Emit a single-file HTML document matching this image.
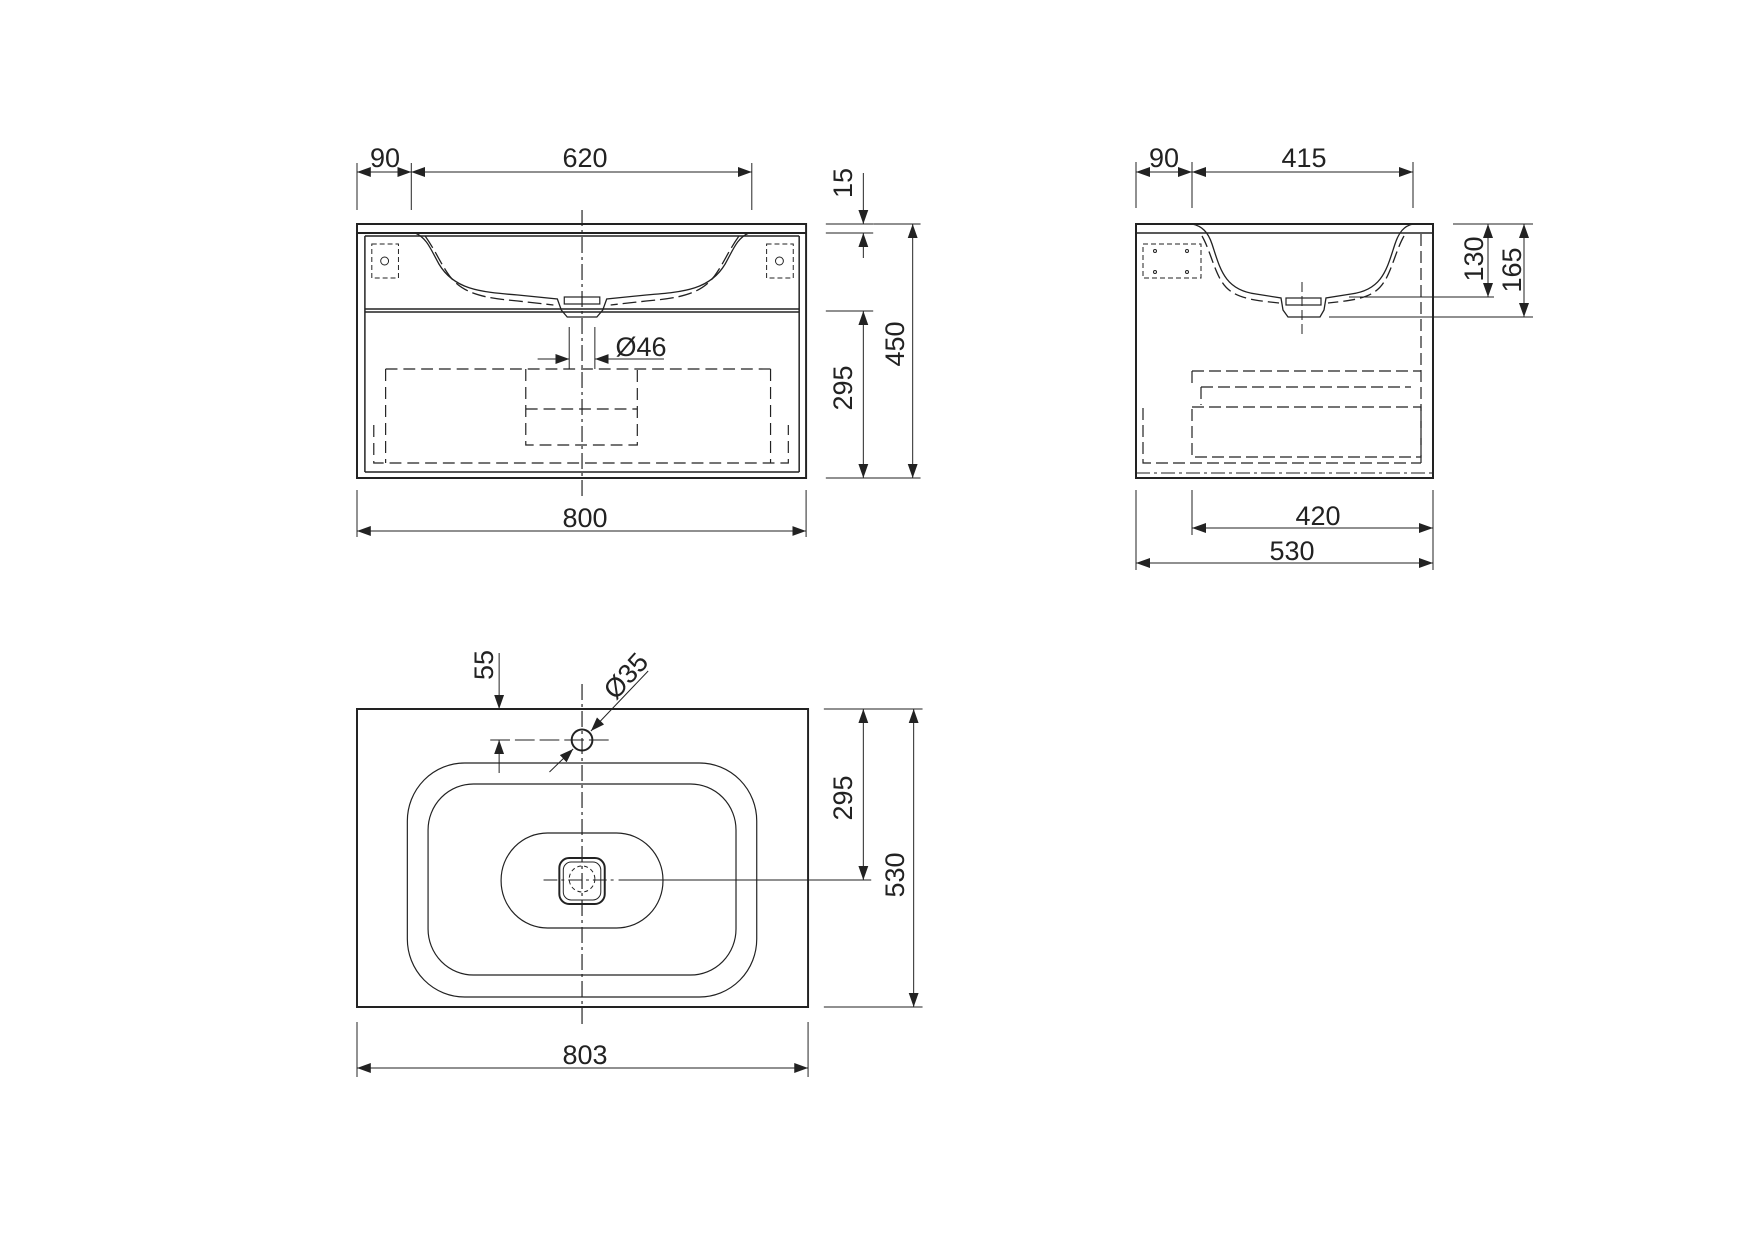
<!DOCTYPE html>
<html><head><meta charset="utf-8"><style>
html,body{margin:0;padding:0;background:#fff}
svg{display:block}
text{font-family:"Liberation Sans",Arial,sans-serif;font-size:27px;fill:#222}
</style></head><body>
<svg width="1754" height="1240" viewBox="0 0 1754 1240" xmlns="http://www.w3.org/2000/svg">
<defs>
<marker id="a" viewBox="0 0 14 10" refX="14" refY="5" markerWidth="14" markerHeight="10" markerUnits="userSpaceOnUse" orient="auto-start-reverse"><path d="M0,0 L14,5 L0,10 Z" fill="#222"/></marker>
</defs>
<g stroke="#222" fill="none">
<g transform="translate(357,0) scale(0.987,1) translate(-357,0)">
<!-- ============ FRONT VIEW ============ -->
<rect x="357" y="224" width="455" height="254" stroke-width="2"/>
<line x1="357" y1="233" x2="812" y2="233" stroke-width="2"/>
<line x1="365" y1="236" x2="805" y2="236" stroke-width="1.5"/>
<line x1="365" y1="236" x2="365" y2="472" stroke-width="1.5"/>
<line x1="805" y1="236" x2="805" y2="472" stroke-width="1.5"/>
<line x1="365" y1="472" x2="805" y2="472" stroke-width="1.5"/>
<line x1="365" y1="309" x2="805" y2="309" stroke-width="1.5"/>
<line x1="365" y1="312" x2="805" y2="312" stroke-width="1.5"/>
<path d="M416,233 C428,238 432,250 440,264 C455,289 480,292 520,295 L560,299 L564,310 L570,317 L600,317 L606,310 L610,299 L650,295 C690,292 715,289 730,264 C738,250 742,238 754,233" stroke-width="1.3"/>
<path d="M426,236 C436,250 440,260 448,272 C462,294 485,298 520,301 L556,305" stroke-width="1.3" stroke-dasharray="14,5"/>
<path d="M744,236 C734,250 730,260 722,272 C708,294 685,298 650,301 L614,305" stroke-width="1.3" stroke-dasharray="14,5"/>
<rect x="567" y="297" width="36" height="7" stroke-width="1.2"/>
<rect x="372" y="244" width="27" height="34" stroke-width="1" stroke-dasharray="5,3"/>
<rect x="772" y="244" width="27" height="34" stroke-width="1" stroke-dasharray="5,3"/>
<circle cx="385" cy="261" r="4" stroke-width="1"/>
<circle cx="785" cy="261" r="4" stroke-width="1"/>
<path d="M386,369 L776,369" stroke-width="1.2" stroke-dasharray="12,6"/>
<path d="M374,425 L374,463 L794,463 L794,425" stroke-width="1.2" stroke-dasharray="12,6"/>
<path d="M386,369 L386,463 M776,369 L776,463" stroke-width="1.2" stroke-dasharray="12,6"/>
<path d="M528,369 L528,445 L641,445 L641,369 M528,409 L641,409" stroke-width="1.2" stroke-dasharray="12,6"/>
<line x1="585" y1="210" x2="585" y2="497" stroke-width="1.2" stroke-dasharray="16,4,3,4"/>
<line x1="357" y1="163" x2="357" y2="210" stroke-width="1"/>
<line x1="412" y1="163" x2="412" y2="210" stroke-width="1"/>
<line x1="757" y1="163" x2="757" y2="210" stroke-width="1"/>
<line x1="357" y1="172" x2="412" y2="172" stroke-width="1" marker-start="url(#a)" marker-end="url(#a)"/>
<line x1="412" y1="172" x2="757" y2="172" stroke-width="1" marker-start="url(#a)" marker-end="url(#a)"/>
<line x1="832" y1="224" x2="880" y2="224" stroke-width="1"/>
<line x1="832" y1="233" x2="880" y2="233" stroke-width="1"/>
<line x1="870" y1="173" x2="870" y2="224" stroke-width="1" marker-end="url(#a)"/>
<line x1="870" y1="258" x2="870" y2="233" stroke-width="1" marker-end="url(#a)"/>
<line x1="832" y1="478" x2="928" y2="478" stroke-width="1"/>
<line x1="880" y1="224" x2="928" y2="224" stroke-width="1"/>
<line x1="832" y1="311" x2="880" y2="311" stroke-width="1"/>
<line x1="920" y1="224" x2="920" y2="478" stroke-width="1" marker-start="url(#a)" marker-end="url(#a)"/>
<line x1="870" y1="311" x2="870" y2="478" stroke-width="1" marker-start="url(#a)" marker-end="url(#a)"/>
<line x1="572" y1="327" x2="572" y2="369" stroke-width="1"/>
<line x1="598" y1="327" x2="598" y2="369" stroke-width="1"/>
<line x1="540" y1="359" x2="572" y2="359" stroke-width="1" marker-end="url(#a)"/>
<line x1="668" y1="359" x2="598" y2="359" stroke-width="1" marker-end="url(#a)"/>
<line x1="357" y1="490" x2="357" y2="537" stroke-width="1"/>
<line x1="812" y1="490" x2="812" y2="537" stroke-width="1"/>
<line x1="357" y1="531" x2="812" y2="531" stroke-width="1" marker-start="url(#a)" marker-end="url(#a)"/>

<!-- ============ TOP VIEW ============ -->
<rect x="357" y="709" width="457" height="298" stroke-width="2"/>
<rect x="408" y="763" width="354" height="234" rx="58" stroke-width="1.2"/>
<rect x="429" y="784" width="312" height="191" rx="46" stroke-width="1.2"/>
<rect x="503" y="833" width="164" height="95" rx="47" stroke-width="1.2"/>
<rect x="562" y="858" width="46" height="46" rx="10" stroke-width="2"/>
<rect x="566" y="862" width="38" height="38" rx="8" stroke-width="1"/>
<circle cx="585" cy="879" r="13" stroke-width="1" stroke-dasharray="4,3"/>
<line x1="585" y1="684" x2="585" y2="1028" stroke-width="1.2" stroke-dasharray="16,4,3,4"/>
<line x1="546" y1="880" x2="620" y2="880" stroke-width="1" stroke-dasharray="14,4,3,4"/>
<line x1="622" y1="880" x2="878" y2="880" stroke-width="1"/>
<circle cx="585" cy="740" r="10.5" stroke-width="2"/>
<line x1="492" y1="740" x2="612" y2="740" stroke-width="1" stroke-dasharray="20,5"/>
<line x1="501" y1="653" x2="501" y2="709" stroke-width="1" marker-end="url(#a)"/>
<line x1="501" y1="773" x2="501" y2="740" stroke-width="1" marker-end="url(#a)"/>
<line x1="652" y1="671" x2="594" y2="731" stroke-width="1" marker-end="url(#a)"/>
<line x1="552" y1="772" x2="576" y2="749" stroke-width="1" marker-end="url(#a)"/>
<line x1="830" y1="709" x2="930" y2="709" stroke-width="1"/>
<line x1="830" y1="1007" x2="930" y2="1007" stroke-width="1"/>
<line x1="870" y1="709" x2="870" y2="880" stroke-width="1" marker-start="url(#a)" marker-end="url(#a)"/>
<line x1="921" y1="709" x2="921" y2="1007" stroke-width="1" marker-start="url(#a)" marker-end="url(#a)"/>
<line x1="357" y1="1022" x2="357" y2="1077" stroke-width="1"/>
<line x1="814" y1="1022" x2="814" y2="1077" stroke-width="1"/>
<line x1="357" y1="1068" x2="814" y2="1068" stroke-width="1" marker-start="url(#a)" marker-end="url(#a)"/>
</g>

<!-- ============ SIDE VIEW ============ -->
<g transform="translate(-4,0)">
<rect x="1140" y="224" width="297" height="254" stroke-width="2"/>
<line x1="1140" y1="233" x2="1437" y2="233" stroke-width="1.5"/>
<path d="M1196,224 C1206,226 1212,232 1216,244 C1224,268 1228,290 1260,294 L1285,298 L1287,310 L1292,317 L1324,317 L1328,310 L1330,298 L1355,294 C1387,290 1391,268 1399,244 C1403,232 1408,226 1417,224" stroke-width="1.3"/>
<path d="M1206,236 C1214,250 1218,270 1226,282 C1236,298 1255,300 1283,303" stroke-width="1.3" stroke-dasharray="12,5"/>
<path d="M1408,236 C1400,250 1396,270 1388,282 C1378,298 1360,300 1332,303" stroke-width="1.3" stroke-dasharray="12,5"/>
<rect x="1290" y="298" width="35" height="7" stroke-width="1.2"/>
<line x1="1306" y1="282" x2="1306" y2="336" stroke-width="1" stroke-dasharray="10,4"/>
<rect x="1147" y="244" width="58" height="34" stroke-width="1" stroke-dasharray="5,3"/>
<circle cx="1159" cy="251" r="1.5"/><circle cx="1191" cy="251" r="1.5"/>
<circle cx="1159" cy="272" r="1.5"/><circle cx="1191" cy="272" r="1.5"/>
<line x1="1425" y1="234" x2="1425" y2="463" stroke-width="1.2" stroke-dasharray="12,5"/>
<path d="M1196,371 L1425,371 M1205,387 L1415,387 M1196,371 L1196,386 M1205,387 L1205,405" stroke-width="1.2" stroke-dasharray="12,5"/>
<rect x="1196" y="407" width="229" height="50" stroke-width="1.2" stroke-dasharray="12,5"/>
<path d="M1147,408 L1147,463 L1425,463" stroke-width="1.2" stroke-dasharray="12,5"/>
<line x1="1140" y1="473" x2="1437" y2="473" stroke-width="1" stroke-dasharray="14,4,3,4"/>
<line x1="1140" y1="162" x2="1140" y2="208" stroke-width="1"/>
<line x1="1196" y1="162" x2="1196" y2="208" stroke-width="1"/>
<line x1="1417" y1="162" x2="1417" y2="208" stroke-width="1"/>
<line x1="1140" y1="172" x2="1196" y2="172" stroke-width="1" marker-start="url(#a)" marker-end="url(#a)"/>
<line x1="1196" y1="172" x2="1417" y2="172" stroke-width="1" marker-start="url(#a)" marker-end="url(#a)"/>
<line x1="1457" y1="224" x2="1537" y2="224" stroke-width="1"/>
<line x1="1353" y1="297" x2="1498" y2="297" stroke-width="1"/>
<line x1="1333" y1="317" x2="1537" y2="317" stroke-width="1"/>
<line x1="1492" y1="224" x2="1492" y2="297" stroke-width="1" marker-start="url(#a)" marker-end="url(#a)"/>
<line x1="1528" y1="224" x2="1528" y2="317" stroke-width="1" marker-start="url(#a)" marker-end="url(#a)"/>
<line x1="1140" y1="490" x2="1140" y2="570" stroke-width="1"/>
<line x1="1196" y1="490" x2="1196" y2="535" stroke-width="1"/>
<line x1="1437" y1="490" x2="1437" y2="570" stroke-width="1"/>
<line x1="1196" y1="528" x2="1437" y2="528" stroke-width="1" marker-start="url(#a)" marker-end="url(#a)"/>
<line x1="1140" y1="563" x2="1437" y2="563" stroke-width="1" marker-start="url(#a)" marker-end="url(#a)"/>
</g>
</g>

<g text-anchor="middle" dominant-baseline="central">
<text x="385" y="158">90</text>
<text x="585" y="158">620</text>
<text transform="translate(843,183) rotate(-90)">15</text>
<text transform="translate(895,344) rotate(-90)">450</text>
<text transform="translate(843,388) rotate(-90)">295</text>
<text x="641" y="347">Ø46</text>
<text x="585" y="518">800</text>

<text x="1164" y="158">90</text>
<text x="1304" y="158">415</text>
<text transform="translate(1474,259) rotate(-90)">130</text>
<text transform="translate(1512,270) rotate(-90)">165</text>
<text x="1318" y="516">420</text>
<text x="1292" y="551">530</text>

<text transform="translate(484,665) rotate(-90)">55</text>
<text transform="translate(626,676) rotate(-48)">Ø35</text>
<text transform="translate(843,798) rotate(-90)">295</text>
<text transform="translate(895,875) rotate(-90)">530</text>
<text x="585" y="1055">803</text>
</g>
</svg>
</body></html>
